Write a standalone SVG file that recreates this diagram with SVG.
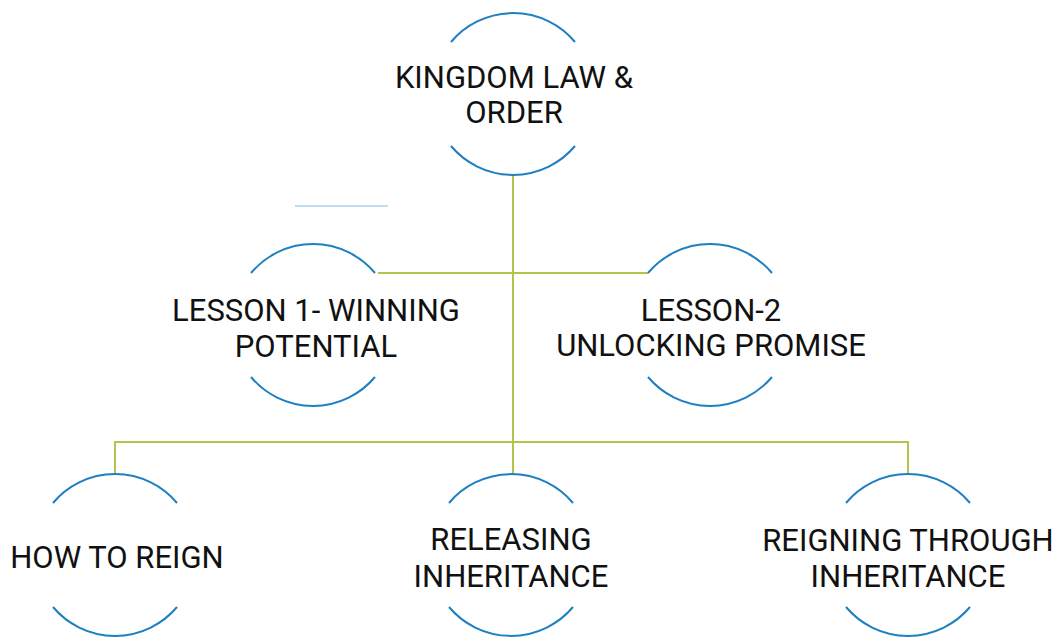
<svg xmlns="http://www.w3.org/2000/svg" width="1063" height="637" viewBox="0 0 1063 637">
<style>
.arc{fill:none;stroke:#1e7fc1;stroke-width:2}
.con{fill:none;stroke:#b6c24e;stroke-width:2}
.lbl{font-family:Roboto,"Liberation Sans",sans-serif;font-size:31px;fill:#111;text-anchor:middle}
</style>
<rect width="1063" height="637" fill="#ffffff"/>
<line x1="295" y1="206" x2="388" y2="206" stroke="#a9d2ea" stroke-width="1.5"/>
<g id="connectors">
<path class="con" d="M513 175V474"/>
<path class="con" d="M378 273H648"/>
<path class="con" d="M115 474V442H908V474"/>
</g>
<g id="n-kingdom">
<path class="arc" d="M451 42A81 81 0 0 1 575 42M451 146A81 81 0 0 0 575 146"/>
<text class="lbl" x="514" y="88">KINGDOM LAW &amp;</text>
<text class="lbl" x="514" y="123">ORDER</text>
</g>
<g id="n-lesson1">
<path class="arc" d="M251 273A81 81 0 0 1 375 273M251 377A81 81 0 0 0 375 377"/>
<text class="lbl" x="316" y="321">LESSON 1- WINNING</text>
<text class="lbl" x="316" y="357">POTENTIAL</text>
</g>
<g id="n-lesson2">
<path class="arc" d="M648 273A81 81 0 0 1 772 273M648 377A81 81 0 0 0 772 377"/>
<text class="lbl" x="711" y="321">LESSON-2</text>
<text class="lbl" x="711" y="356">UNLOCKING PROMISE</text>
</g>
<g id="n-how">
<path class="arc" d="M53 503A81 81 0 0 1 177 503M53 607A81 81 0 0 0 177 607"/>
<text class="lbl" x="117" y="568">HOW TO REIGN</text>
</g>
<g id="n-releasing">
<path class="arc" d="M449 503A81 81 0 0 1 573 503M449 607A81 81 0 0 0 573 607"/>
<text class="lbl" x="511" y="550">RELEASING</text>
<text class="lbl" x="511" y="587">INHERITANCE</text>
</g>
<g id="n-reigning">
<path class="arc" d="M846 503A81 81 0 0 1 970 503M846 607A81 81 0 0 0 970 607"/>
<text class="lbl" x="908" y="551">REIGNING THROUGH</text>
<text class="lbl" x="908" y="587">INHERITANCE</text>
</g>
</svg>
